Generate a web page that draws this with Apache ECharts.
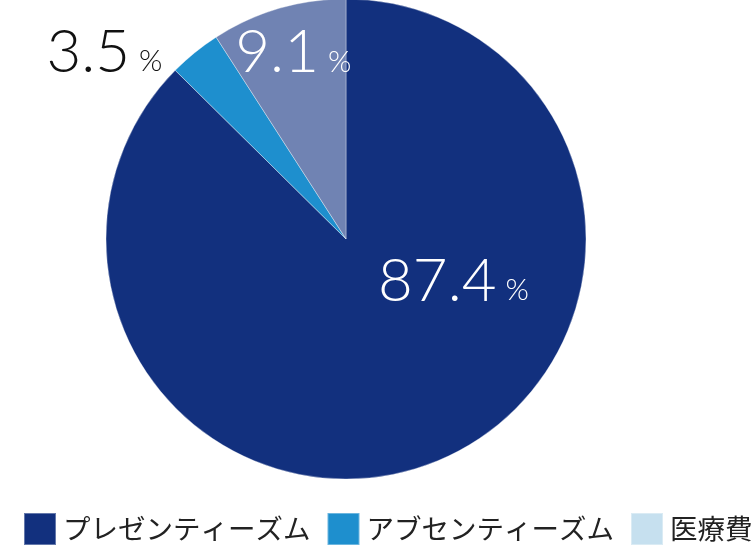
<!DOCTYPE html>
<html>
<head>
<meta charset="utf-8">
<script src="https://cdn.jsdelivr.net/npm/echarts@6/dist/echarts.min.js"></script>
<style>
  html, body { margin: 0; padding: 0; background: #fff; }
  #chart { width: 756px; height: 552px; }
</style>
</head>
<body>
<div id="chart"></div>
<script>
  // categories and shares (%)
  var categories = ['プレゼンティーズム', 'アブセンティーズム', '医療費']
  var shares = [87.4, 3.5, 9.1]
  var sliceColors = ['#12307e', '#1e8fce', '#7083b3']
  var legendColors = ['#12307e', '#1e8fce', '#c6e0ef']

  // label placement per slice (offset from the default inside spot)
  var labelOffsets = [[60, -71], [-164, -91], [-18, -68]]
  var labelColors = ['#fff', '#111', '#fff']

  var chart = echarts.init(document.getElementById('chart'))

  chart.setOption({
    backgroundColor: '#fff',
    animation: false,
    legend: {
      orient: 'horizontal',
      bottom: 6,
      left: 23,
      width: 900,
      padding: 0,
      itemWidth: 32,
      itemHeight: 32,
      itemGap: 16,
      icon: 'rect',
      selectedMode: false,
      textStyle: {
        fontFamily: 'Noto Sans CJK JP',
        fontSize: 27.5,
        color: '#222',
        padding: [0, 0, 0, 2]
      },
      data: categories.map(function(name, i) {
        return { name: name, itemStyle: { color: legendColors[i] } }
      })
    },
    series: [{
      type: 'pie',
      center: [346, 239],
      radius: 240,
      startAngle: 90,
      clockwise: true,
      silent: true,
      labelLine: { show: false },
      itemStyle: {
        borderColor: 'rgba(255,255,255,0.35)',
        borderWidth: 1
      },
      data: categories.map(function(name, i) {
        return {
          name: name,
          value: shares[i],
          itemStyle: { color: sliceColors[i] },
          label: {
            show: true,
            position: 'inside',
            offset: labelOffsets[i],
            formatter: function(p) {
              return '{num|' + p.value.toFixed(1) + '}{pct|%}'
            },
            rich: {
              num: {
                fontFamily: 'Lato',
                fontWeight: 300,
                fontSize: 60,
                lineHeight: 60,
                verticalAlign: 'bottom',
                color: labelColors[i]
              },
              pct: {
                fontFamily: 'Lato',
                fontWeight: 300,
                fontSize: 30,
                lineHeight: 30,
                verticalAlign: 'bottom',
                padding: [0, 0, 6, 9],
                color: labelColors[i]
              }
            }
          }
        }
      })
    }]
  })
</script>
</body>
</html>
